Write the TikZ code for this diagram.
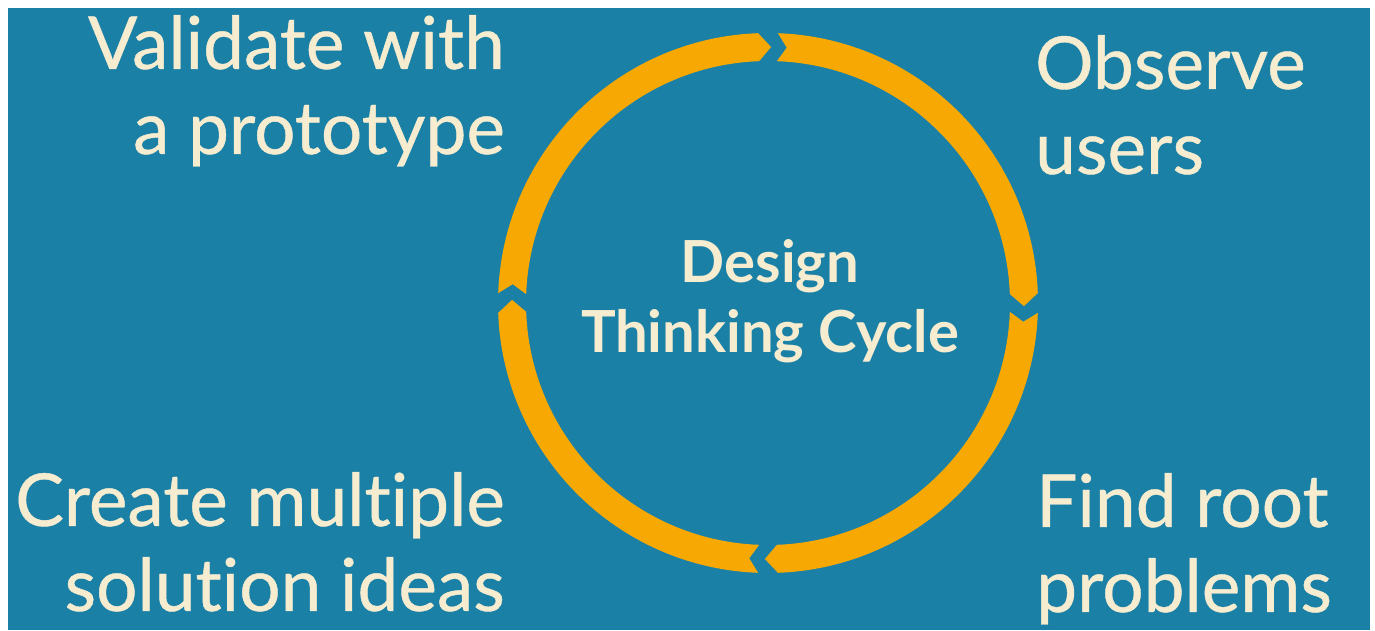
\documentclass[tikz,border=0pt]{standalone}
\usepackage{fontspec}
\setmainfont{Lato}[Ligatures=NoCommon]
\newfontfamily\phasefont{Lato}[FakeBold=0.6,Ligatures=NoCommon]
\usepackage{tikz}
\usetikzlibrary{positioning}

\definecolor{deck}{RGB}{27,128,166}
\definecolor{ringorange}{RGB}{247,168,2}
\definecolor{cream}{RGB}{246,236,208}

\begin{document}
\begin{tikzpicture}[
  x=1pt, y=1pt,
  every node/.style={inner sep=0pt,text=cream},
  phase/.style={font=\phasefont\fontsize{73}{85}\selectfont},
  cycletitle/.style={font=\fontsize{58}{70}\selectfont\bfseries,align=center},
  ringpart/.style={fill=ringorange}
]
\useasboundingbox (0,0) rectangle (1375,631);
\fill[white] (0,0) rectangle (1375,631);
\fill[deck] (8,1) rectangle (1370,623);
\coordinate (c) at (768,328);

% four arrow pieces of the ring, running clockwise
\begin{scope}[shift={(c)}]
\fill[ringpart] (177.9:270pt) arc[start angle=177.9, end angle=92.1, radius=270pt] -- (89.3:256pt)
  -- (92.1:242pt) arc[start angle=92.1, end angle=177.9, radius=242pt] -- (175.8:256pt) -- cycle;
\fill[ringpart] (87.9:270pt) arc[start angle=87.9, end angle=2.1, radius=270pt] -- (-0.7:256pt)
  -- (2.1:242pt) arc[start angle=2.1, end angle=87.9, radius=242pt] -- (85.8:256pt) -- cycle;
\fill[ringpart] (-2.1:270pt) arc[start angle=-2.1, end angle=-87.9, radius=270pt] -- (-90.7:256pt)
  -- (-87.9:242pt) arc[start angle=-87.9, end angle=-2.1, radius=242pt] -- (-4.2:256pt) -- cycle;
\fill[ringpart] (-92.1:270pt) arc[start angle=-92.1, end angle=-177.9, radius=270pt] -- (-180.7:256pt)
  -- (-177.9:242pt) arc[start angle=-177.9, end angle=-92.1, radius=242pt] -- (-94.2:256pt) -- cycle;
\end{scope}

\node[cycletitle] (title) at ([xshift=2pt,yshift=2pt]c) {Design\\Thinking Cycle};

\node[phase, align=right, anchor=north east] (validate) at (505,616) {Validate with\\a prototype};
\node[phase, align=left, anchor=north west]  (observe)  at (1035,596) {Observe\\users};
\node[phase, align=left, anchor=north west]  (find)     at (1036,158) {Find root\\problems};
\node[phase, align=right, anchor=north east] (create)   at (505,159) {Create multiple\\solution ideas};
\end{tikzpicture}
\end{document}
